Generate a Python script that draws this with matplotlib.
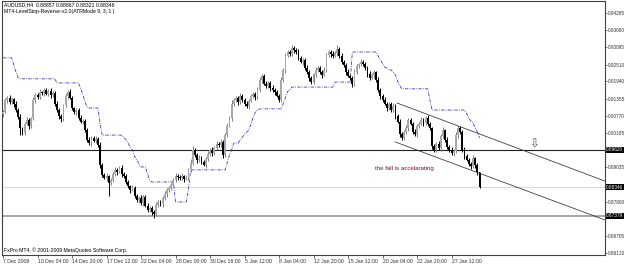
import matplotlib
matplotlib.use('Agg')
import matplotlib.pyplot as plt
import numpy as np

plt.rcParams['font.family'] = ['Liberation Sans', 'DejaVu Sans']

# ---- data (prices in 1e-4 units) ----
first_open = 9082
close_pips = [
    9091, 9131, 9138, 9124, 9135, 9118, 9097, 9074, 9036, 9019,
    9050, 9063, 9043, 9070, 9131, 9148, 9141, 9158, 9155, 9165,
    9152, 9162, 9148, 9155, 9118, 9097, 9077, 9067, 9114, 9145,
    9158, 9138, 9104, 9091, 9097, 9070, 9057, 9060, 9029, 8996,
    8985, 9002, 8992, 8999, 8979, 8911, 8877, 8867, 8873, 8850,
    8860, 8880, 8894, 8887, 8901, 8880, 8873, 8853, 8839, 8826,
    8833, 8805, 8792, 8799, 8782, 8802, 8772, 8758, 8765, 8751,
    8744, 8775, 8785, 8778, 8799, 8812, 8826, 8833, 8843, 8860,
    8873, 8870, 8867, 8873, 8863, 8867, 8894, 8918, 8962, 8945,
    8928, 8934, 8921, 8911, 8931, 8948, 8962, 8951, 8968, 8982,
    8979, 8989, 8945, 9012, 9043, 9070, 9118, 9131, 9138, 9124,
    9145, 9131, 9118, 9111, 9128, 9145, 9152, 9141, 9165, 9199,
    9213, 9186, 9179, 9189, 9172, 9165, 9158, 9145, 9131, 9199,
    9233, 9281, 9294, 9287, 9308, 9301, 9294, 9274, 9260, 9267,
    9240, 9226, 9206, 9192, 9219, 9233, 9240, 9226, 9216, 9233,
    9284, 9294, 9287, 9281, 9291, 9304, 9281, 9260, 9250, 9226,
    9213, 9206, 9186, 9226, 9247, 9253, 9260, 9253, 9240, 9219,
    9206, 9216, 9226, 9199, 9165, 9145, 9131, 9118, 9104, 9118,
    9097, 9111, 9077, 9057, 9016, 9002, 9023, 9036, 9063, 9050,
    9023, 9016, 9043, 9050, 9063, 9053, 9070, 9050, 9036, 8975,
    8962, 8982, 8968, 9009, 9029, 8996, 8972, 8962, 8951, 8958,
    9012, 9036, 9023, 8962, 8941, 8928, 8914, 8907, 8934, 8911,
    8886, 8835,
]
up_wick = [
    6, 8, 5, 10, 7, 4, 9, 6, 8, 5,
    7, 12, 6, 5, 9, 8, 6, 10, 5, 7,
    8, 6, 9, 5, 7, 11, 6, 8, 5, 9,
    6, 10, 7, 5, 8, 6, 9, 7, 5, 8,
    10, 6, 7, 9, 5, 8, 6, 7, 10, 5,
    8, 6, 9, 7, 5, 10, 6, 8, 7, 5,
    9, 6, 8, 5, 10, 7, 6, 9, 5, 8,
    7, 10, 6, 8, 5, 9, 7, 6, 8, 5,
    10, 6, 7, 9, 5, 8, 6, 12, 14, 7,
    5, 9, 6, 8, 7, 10, 5, 8, 6, 9,
    7, 10, 6, 8, 9, 7, 12, 6, 8, 5,
    9, 7, 6, 10, 5, 8, 7, 6, 9, 11,
    8, 6, 10, 5, 7, 9, 6, 8, 5, 10,
    7, 9, 8, 6, 10, 7, 5, 9, 6, 8,
    7, 10, 6, 8, 5, 9, 7, 6, 8, 10,
    6, 8, 7, 9, 5, 14, 6, 8, 7, 5,
    9, 6, 8, 10, 7, 5, 9, 6, 8, 7,
    10, 6, 8, 5, 9, 7, 6, 10, 5, 8,
    7, 9, 6, 8, 10, 5, 7, 9, 6, 8,
    5, 10, 7, 6, 9, 8, 6, 10, 7, 5,
    8, 6, 9, 7, 12, 5, 8, 6, 9, 7,
    10, 6, 8, 5, 9, 7, 6, 8, 10, 5,
    6, 1,
]
low_wick = [
    7, 5, 9, 6, 8, 10, 5, 7, 25, 6,
    8, 5, 10, 7, 6, 9, 5, 8, 6, 10,
    5, 7, 9, 6, 8, 5, 10, 12, 6, 7,
    9, 5, 8, 6, 10, 7, 5, 9, 6, 8,
    7, 10, 5, 8, 6, 9, 7, 5, 10, 45,
    6, 8, 7, 9, 5, 10, 6, 8, 7, 9,
    5, 8, 6, 10, 7, 9, 5, 8, 6, 9,
    12, 6, 8, 5, 9, 7, 10, 6, 8, 5,
    7, 9, 6, 8, 10, 5, 7, 6, 9, 8,
    10, 6, 8, 5, 9, 7, 6, 10, 5, 8,
    7, 9, 12, 6, 8, 5, 10, 7, 6, 9,
    5, 8, 7, 6, 10, 5, 8, 9, 6, 7,
    10, 5, 8, 7, 9, 6, 10, 5, 8, 7,
    6, 9, 5, 8, 7, 10, 6, 8, 5, 9,
    7, 6, 10, 8, 5, 9, 7, 6, 10, 5,
    8, 6, 9, 7, 5, 10, 6, 8, 7, 9,
    5, 8, 10, 6, 7, 9, 5, 8, 6, 10,
    7, 5, 9, 8, 6, 10, 7, 5, 9, 6,
    8, 7, 10, 5, 9, 8, 6, 7, 10, 5,
    8, 6, 9, 7, 5, 10, 6, 8, 7, 9,
    6, 8, 5, 10, 7, 9, 6, 8, 5, 10,
    7, 9, 6, 8, 10, 5, 7, 9, 6, 12,
    8, 3,
]
stop_pips = [
    9274, 9274, 9274, 9274, 9274, 9250, 9225, 9206,
    9203, 9203, 9203, 9203, 9203, 9203, 9203, 9203, 9203, 9203, 9203, 9203, 9203, 9203, 9203, 9203, 9203,
    9189, 9189, 9189, 9189, 9189, 9189, 9189, 9189, 9189, 9189, 9189,
    9170, 9150, 9125, 9107,
    9104, 9104, 9104, 9104, 9104,
    9050, 9012,
    9012, 9012, 9012, 9012, 9012, 9012, 9012, 9012, 9012,
    9005, 8996, 8985, 8970, 8962,
    8940, 8928, 8915,
    8904, 8904, 8904,
    8880, 8860, 8853,
    8853, 8853, 8853, 8853, 8853, 8853, 8853, 8853, 8853, 8853,
    8785, 8785, 8785, 8785, 8785, 8785,
    8830, 8894,
    8894, 8894, 8894, 8894, 8894, 8894, 8894, 8894, 8894, 8894, 8894, 8894, 8894, 8894, 8894, 8894,
    8920, 8945, 8962,
    8985, 8985, 8985,
    8995, 9005, 9015, 9022, 9029,
    9050, 9074, 9090, 9097,
    9101, 9101, 9101, 9101, 9101, 9101, 9101, 9101, 9101, 9101, 9101,
    9120, 9140, 9160, 9165,
    9175, 9175, 9175, 9175, 9175, 9175, 9175, 9175, 9175, 9175,
    9175, 9175, 9175, 9175, 9175, 9175, 9175, 9175, 9175, 9175,
    9192, 9192, 9192, 9192, 9192, 9192, 9192, 9192,
    9294, 9294, 9294, 9294, 9294, 9294, 9294, 9294, 9294, 9294, 9294, 9294,
    9280, 9267, 9255, 9243,
    9240, 9233, 9233, 9225, 9216, 9195,
    9180,
    9169, 9169, 9169, 9169, 9169, 9169, 9169, 9169, 9169, 9169, 9169, 9169, 9169,
    9130, 9097,
    9097, 9097, 9097, 9097, 9097, 9097, 9097, 9097, 9097, 9097, 9097, 9097, 9097, 9097, 9097,
    9085, 9070, 9060, 9053,
    9035, 9023, 9002,
]

xtick_idx = [0, 16, 32, 48, 64, 80, 96, 112, 128, 144, 160, 176, 192, 208]
xtick_labels = ['7 Dec 2009', '10 Dec 04:00', '14 Dec 20:00', '17 Dec 12:00',
                '22 Dec 04:00', '28 Dec 00:00', '30 Dec 16:00', '5 Jan 12:00',
                '8 Jan 04:00', '12 Jan 20:00', '15 Jan 12:00', '20 Jan 04:00',
                '22 Jan 20:00', '27 Jan 12:00']
ytick_vals = [0.94265, 0.93680, 0.93095, 0.92510, 0.91940, 0.91355, 0.90770,
              0.90185, 0.89035, 0.87860, 0.86705, 0.86120]
hl_levels = [0.89620, 0.88346, 0.87379]   # black line, bid line, grey line
upper_channel = ([182.7, 279.2], [0.9121, 0.8856])
lower_channel = ([181.8, 279.2], [0.8989, 0.8724])
arrow_pos = (246.3, 0.8981)
note_pos = (172.5, 0.8897)
note_text = 'the fall is accelarating'

# ---- derived ----
c = np.array(close_pips) / 1e4
o = np.array([first_open] + close_pips[:-1]) / 1e4
h = np.maximum(o, c) + np.array(up_wick) / 1e4
l = np.minimum(o, c) - np.array(low_wick) / 1e4
stop = np.array(stop_pips) / 1e4
idx = np.arange(len(c))

fig = plt.figure(figsize=(6.25, 2.65), dpi=100)
ax = fig.add_axes([2/625, 10/265, 603/625, 254/265])
ax.set_xlim(-0.5, 279.2)
ax.set_ylim(0.86052, 0.9467)

bull = c >= o
col_body = np.where(bull, '#a8a8a8', '#000000')
col_wick = np.where(bull, '#808080', '#000000')
ax.vlines(idx, l, h, colors=col_wick, lw=0.7, zorder=3)
body_h = np.maximum(np.abs(c - o), 0.00008)
ax.bar(idx, body_h, bottom=np.minimum(o, c), width=0.85, color=col_body,
       edgecolor='none', zorder=4)

# LevelStop-Reverse line
ax.plot(idx, stop, color='#3838b0', lw=0.6, ls=(0, (4, 1.5, 1, 1.5)), zorder=2)

# horizontal lines
ax.axhline(hl_levels[0], color='#202020', lw=0.8, zorder=1)
ax.axhline(hl_levels[1], color='#ead7bd', lw=0.8, zorder=1)
ax.axhline(hl_levels[2], color='#a8a8a8', lw=1.4, zorder=1)

# channel
ax.plot(*upper_channel, color='#303030', lw=0.55, zorder=5)
ax.plot(*lower_channel, color='#303030', lw=0.55, zorder=5)

ax.text(arrow_pos[0], arrow_pos[1], '⇩', fontsize=8.5, ha='center', va='center',
        color='#505050', family=['DejaVu Sans'], zorder=6)
ax.text(note_pos[0], note_pos[1], note_text, fontsize=4.4, color='#7a1010',
        ha='left', va='center', zorder=6)

# axes styling
for s in ax.spines.values():
    s.set_color('#404040')
    s.set_linewidth(0.8)
ax.yaxis.tick_right()
ax.set_yticks(ytick_vals)
ax.set_yticklabels([f'{v:.5f}' for v in ytick_vals], fontsize=3.4)
ax.tick_params(axis='y', length=1.5, width=0.5, pad=0.6, colors='#303030')
ax.set_xticks(xtick_idx)
ax.set_xticklabels(xtick_labels, fontsize=3.7, ha='left')
ax.tick_params(axis='x', length=2, width=0.5, pad=1, colors='#303030')

for v in hl_levels:
    ax.text(1.002, v, f'{v:.5f}', transform=ax.get_yaxis_transform(),
            fontsize=3.4, color='white', ha='left', va='center',
            bbox=dict(boxstyle='square,pad=0.12', fc='black', ec='none'))

fig.text(4/625, 1 - 5/265, 'AUDUSD,H4  0.88857 0.88867 0.88321 0.88346',
         fontsize=3.7, va='center', ha='left')
fig.text(4/625, 1 - 12/265, 'MT4-LevelStop-Reverse-v2.0(ATRMode 9, 3, 1 )',
         fontsize=3.7, va='center', ha='left')
fig.text(4/625, 1 - 250/265, 'FxPro MT4, © 2001-2009 MetaQuotes Software Corp.',
         fontsize=3.7, va='center', ha='left')

fig.savefig('out.png', dpi=100, facecolor='white')
